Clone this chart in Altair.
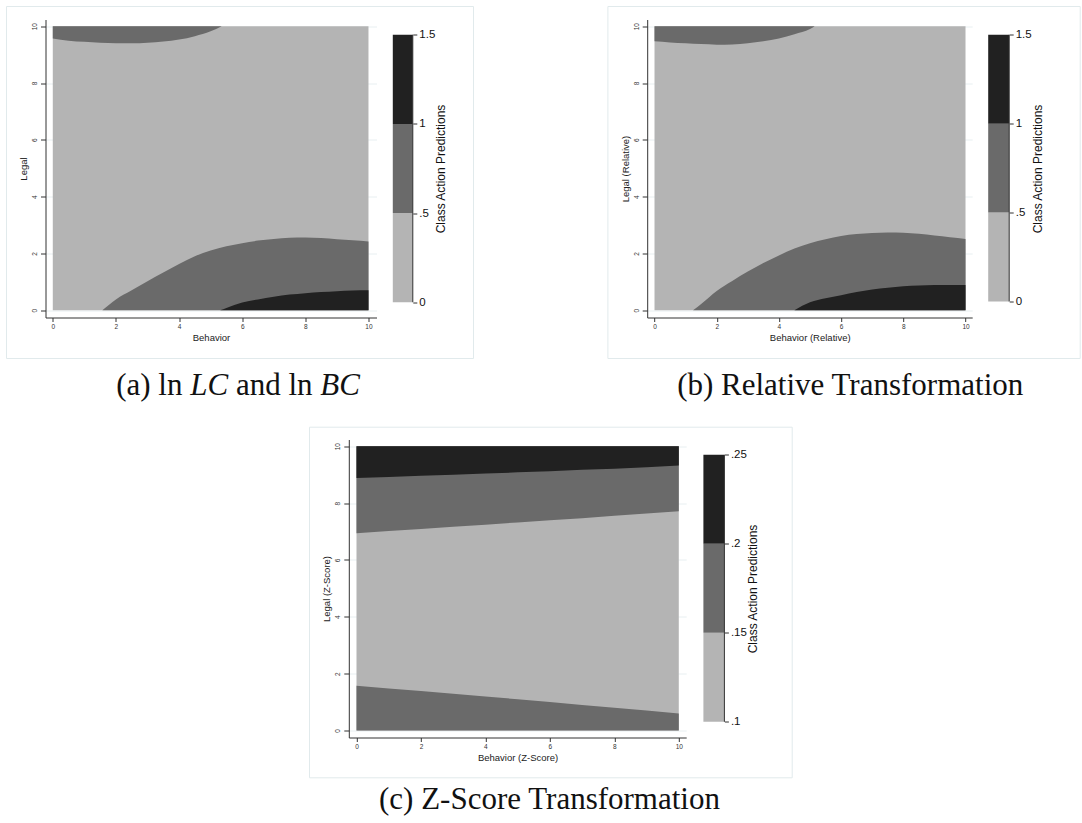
import altair as alt
import pandas as pd

# ---------------- colours / fonts ----------------
LIGHT, MID, DARK = "#b4b4b4", "#6a6a6a", "#212121"
FRAME = "#e1eaec"
GRID = "#e8eff1"
INK = "#333333"
SANS = "Liberation Sans"
SERIF = "Liberation Serif"

BANDS = ["low", "mid", "high"]

# ---------------- data ----------------
grid_x = [0, 10]
grid_y = [0, 10]
tick_vals = [0, 2, 4, 6, 8, 10]

# Panel (a)
a_top_x = [0, 0.5, 1, 1.5, 2, 2.5, 3, 3.5, 4, 4.5, 5, 5.35]
a_top_y = [9.57, 9.49, 9.45, 9.42, 9.40, 9.40, 9.42, 9.46, 9.53, 9.65, 9.82, 10.0]
a_mid_x = [1.57, 2, 2.5, 3, 3.5, 4, 4.5, 5, 5.5, 6, 6.5, 7, 7.5, 8, 8.5, 9, 9.5, 10]
a_mid_y = [0, 0.38, 0.70, 1.02, 1.33, 1.63, 1.90, 2.10, 2.25, 2.36, 2.45, 2.51, 2.55, 2.56, 2.54, 2.50, 2.46, 2.42]
a_dark_x = [5.3, 5.5, 6, 6.5, 7, 7.5, 8, 8.5, 9, 9.5, 10]
a_dark_y = [0, 0.08, 0.27, 0.38, 0.47, 0.55, 0.60, 0.64, 0.67, 0.69, 0.70]

# Panel (b)
b_top_x = [0, 0.5, 1, 1.5, 2, 2.5, 3, 3.5, 4, 4.5, 5, 5.15]
b_top_y = [9.47, 9.43, 9.40, 9.37, 9.35, 9.36, 9.40, 9.47, 9.57, 9.72, 9.90, 10.0]
b_mid_x = [1.24, 1.5, 2, 2.5, 3, 3.5, 4, 4.5, 5, 5.5, 6, 6.5, 7, 7.5, 8, 8.5, 9, 9.5, 10]
b_mid_y = [0, 0.22, 0.68, 1.03, 1.36, 1.66, 1.93, 2.17, 2.36, 2.50, 2.61, 2.68, 2.72, 2.74, 2.73, 2.69, 2.63, 2.57, 2.51]
b_dark_x = [4.5, 5, 5.5, 6, 6.5, 7, 7.5, 8, 8.5, 9, 9.5, 10]
b_dark_y = [0, 0.28, 0.42, 0.53, 0.64, 0.73, 0.79, 0.84, 0.87, 0.89, 0.89, 0.89]

# Panel (c)
c_x = [0, 1, 2, 3, 4, 5, 6, 7, 8, 9, 10]
c_dark_y = [8.88, 8.92, 8.96, 9.00, 9.04, 9.08, 9.12, 9.17, 9.21, 9.26, 9.32]
c_midtop_y = [6.94, 7.02, 7.09, 7.17, 7.24, 7.32, 7.40, 7.47, 7.55, 7.63, 7.71]
c_midbot_y = [1.57, 1.48, 1.39, 1.29, 1.20, 1.10, 1.00, 0.90, 0.80, 0.70, 0.60]

# colour-bar cut points
cb_ab_cuts = [0, 0.5, 1, 1.5]
cb_c_cuts = [0.1, 0.15, 0.2, 0.25]

titles_x = ["Behavior", "Behavior (Relative)", "Behavior (Z-Score)"]
titles_y = ["Legal", "Legal (Relative)", "Legal (Z-Score)"]
cbar_title = "Class Action Predictions"
cap_a_normal = ["(a) ln", "and ln"]
cap_a_italic = ["LC", "BC"]
cap_b = "(b) Relative Transformation"
cap_c = "(c) Z-Score Transformation"

cscale = alt.Scale(domain=BANDS, range=[LIGHT, MID, DARK])
cenc = alt.Color("band:N", scale=cscale, legend=None)


def x_axis(title):
    return alt.Axis(title=title, values=tick_vals, format="d", grid=False,
                    domainColor=INK, tickColor=INK, tickSize=4,
                    labelFont=SANS, labelFontSize=6.5, labelColor=INK,
                    labelPadding=2, labelFlush=False, labelOverlap=False,
                    titleFont=SANS, titleFontSize=9.5, titleFontWeight="normal",
                    titleColor="#222222", titleBaseline="middle", titleY=20)


def y_axis(title):
    return alt.Axis(title=title, values=tick_vals, format="d", grid=True,
                    gridColor=GRID, gridWidth=1,
                    domainColor=INK, tickColor=INK, tickSize=5,
                    labelFont=SANS, labelFontSize=6.5, labelColor=INK,
                    labelAngle=270, labelAlign="center", labelBaseline="bottom",
                    labelPadding=3, labelFlush=False, labelOverlap=False,
                    titleFont=SANS, titleFontSize=9.5, titleFontWeight="normal",
                    titleColor="#222222", titleAngle=270, titleBaseline="middle",
                    titleX=-22)


def text_layer(txt, x, y, size=31, style="normal", align="center"):
    return alt.Chart(pd.DataFrame({"t": [txt]})).mark_text(
        font=SERIF, fontSize=size, fontStyle=style, align=align,
        baseline="alphabetic", color="#111111"
    ).encode(x=alt.value(x), y=alt.value(y), text="t:N")


def frame_layer(x0, x1, y0, y1):
    return alt.Chart(pd.DataFrame({"k": [0]})).mark_rect(
        fillOpacity=0, stroke=FRAME, strokeWidth=1
    ).encode(x=alt.value(x0), x2=alt.value(x1), y=alt.value(y0), y2=alt.value(y1))


def panel(regions, xdom, ydom, w, h, xt, yt, extras, interp):
    xs = alt.Scale(domain=xdom, nice=False, zero=False)
    ys = alt.Scale(domain=ydom, nice=False, zero=False)
    xenc = alt.X("x:Q", scale=xs, axis=x_axis(xt))
    yenc = alt.Y("lo:Q", scale=ys, axis=y_axis(yt))
    bg = pd.DataFrame({"x": [grid_x[0]], "x2": [grid_x[1]], "lo": [grid_y[0]],
                       "hi": [grid_y[1]], "band": ["low"]})
    layers = [alt.Chart(bg).mark_rect().encode(x=xenc, x2="x2:Q", y=yenc,
                                               y2="hi:Q", color=cenc)]
    for xs_, lo, hi, band in regions:
        n = len(xs_)
        lo = lo if isinstance(lo, list) else [lo] * n
        hi = hi if isinstance(hi, list) else [hi] * n
        df = pd.DataFrame({"x": xs_, "lo": lo, "hi": hi, "band": [band] * n})
        layers.append(alt.Chart(df).mark_area(interpolate=interp).encode(
            x=xenc, y=yenc, y2="hi:Q", color=cenc))
    layers += extras
    return alt.layer(*layers).properties(width=w, height=h)


def colorbar(cuts, dom, w, h):
    df = pd.DataFrame({"lo": cuts[:-1], "hi": cuts[1:], "band": BANDS})
    ys = alt.Scale(domain=dom, nice=False, zero=False)
    ax = alt.Axis(orient="right", values=cuts, format="~g",
                  labelExpr="replace(datum.label, /^0\\./, '.')",
                  domain=False, grid=False, tickSize=4, tickColor=INK,
                  labelFont=SANS, labelFontSize=11.5, labelColor="#111111",
                  labelPadding=2, labelFlush=False, labelOverlap=False,
                  labelBaseline="middle",
                  title=cbar_title, titleFont=SANS, titleFontSize=12,
                  titleFontWeight="normal", titleColor="#111111",
                  titleAngle=270, titleBaseline="middle", titleAlign="center",
                  titleX=28, titleY=h / 2)
    bars = alt.Chart(df).mark_rect().encode(
        x=alt.value(0), x2=alt.value(w),
        y=alt.Y("lo:Q", scale=ys, axis=ax), y2="hi:Q", color=cenc)
    edge = alt.Chart(pd.DataFrame({"lo": [cuts[0]], "hi": [cuts[-1]]})).mark_rule(
        color=INK, strokeWidth=1).encode(
        x=alt.value(w), y=alt.Y("lo:Q", scale=ys, axis=ax), y2="hi:Q")
    return alt.layer(bars, edge).properties(width=w, height=h)


H = 298

# ---- panel (a)
cap_a_x = [70.7, 190.4]
cap_a_ix = [144.7, 274.8]
extras_a = [frame_layer(-39, 428, -13, 339)]
extras_a += [text_layer(t, x, 375, align="left") for t, x in zip(cap_a_normal, cap_a_x)]
extras_a += [text_layer(t, x, 375, style="italic", align="left") for t, x in zip(cap_a_italic, cap_a_ix)]
plot_a = panel(
    [(a_top_x, a_top_y, 10, "mid"), (a_mid_x, 0, a_mid_y, "mid"),
     (a_dark_x, 0, a_dark_y, "high")],
    [-0.231, 10.254], [-0.257, 10.236], 331, H, titles_x[0], titles_y[0],
    extras_a, "monotone")
cbar_a = colorbar(cb_ab_cuts, [-0.0858, 1.5858], 20, H)

# ---- panel (b)
extras_b = [frame_layer(-39.3, 433, -13, 339), text_layer(cap_b, 203, 375)]
plot_b = panel(
    [(b_top_x, b_top_y, 10, "mid"), (b_mid_x, 0, b_mid_y, "mid"),
     (b_dark_x, 0, b_dark_y, "high")],
    [-0.235, 10.215], [-0.257, 10.236], 325, H, titles_x[1], titles_y[1],
    extras_b, "monotone")
cbar_b = colorbar(cb_ab_cuts, [-0.09, 1.586], 21, H)

# ---- panel (c)
extras_c = [frame_layer(-39.3, 443.4, -12.3, 338.3), text_layer(cap_c, 200.7, 369)]
plot_c = panel(
    [(c_x, c_midtop_y, 10, "mid"), (c_x, c_dark_y, 10, "high"),
     (c_x, 0, c_midbot_y, "mid")],
    [-0.239, 10.23], [-0.246, 10.236], 337.4, H, titles_x[2], titles_y[2],
    extras_c, "linear")
cbar_c = colorbar(cb_c_cuts, [0.0912, 0.2586], 21, H)

spacer = alt.Chart(pd.DataFrame({"k": [0]})).mark_point(opacity=0).encode(
    x=alt.value(0), y=alt.value(0)).properties(width=1, height=1)

# With flush bounds a nested concat counts as zero-sized, so the outer
# spacings below are measured from the nested group's origin.
pa = alt.hconcat(plot_a, cbar_a, spacing=16.3, bounds="flush")
pb = alt.hconcat(plot_b, cbar_b, spacing=16, bounds="flush")
pc = alt.hconcat(plot_c, cbar_c, spacing=16.6, bounds="flush")
top = alt.hconcat(pa, pb, spacing=601.7, bounds="flush")
bottom = alt.hconcat(spacer, pc, spacing=302.3, bounds="flush")

chart = alt.vconcat(top, bottom, spacing=420, bounds="flush").properties(
    padding={"left": 5.5, "top": 5.5, "right": 0, "bottom": 0},
    background="white",
).configure_view(stroke="transparent")

chart.save("out.html", embed_options={"renderer": "svg", "actions": False})
